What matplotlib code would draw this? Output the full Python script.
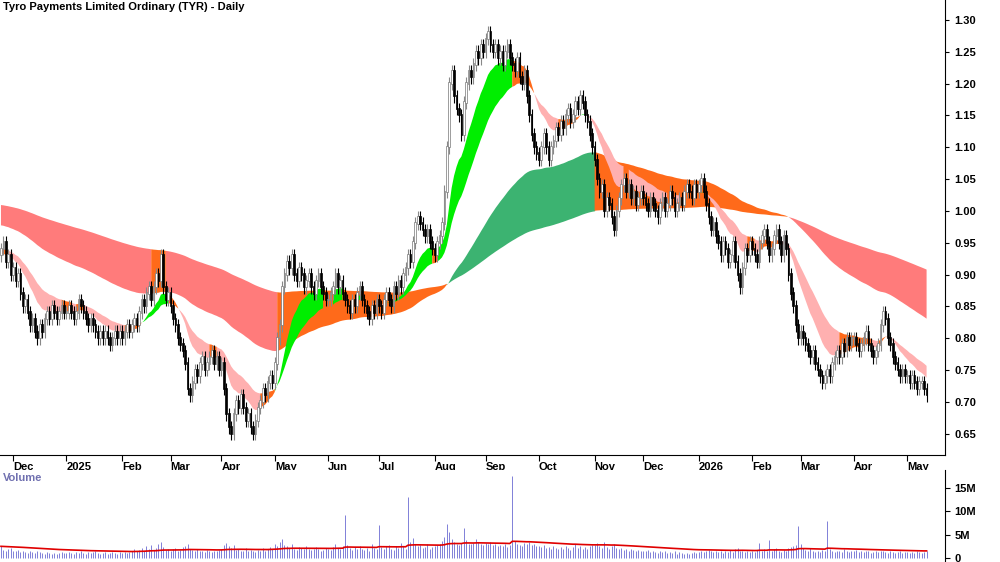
import numpy as np, pandas as pd, matplotlib
matplotlib.use("Agg")
import matplotlib.pyplot as plt
plt.rcParams['font.family'] = ['Liberation Sans', 'DejaVu Sans']

warmup = [1.04,1.03,1.05,1.04,1.02,1.03,1.01,1.02,1.03,1.01,0.99,0.98,1.00,0.99,0.97,0.98,1.00,0.99,0.98,0.97,
          0.99,0.98,0.96,0.97,0.98,0.97,0.96,0.98,0.97,0.95,0.96,0.97,0.96,0.95,0.97,0.96,0.94,0.95,0.96,0.95,
          0.94,0.96,0.95,0.93,0.94,0.95,0.94,0.93,0.95,0.94,0.92,0.93,0.94,0.92,0.91,0.92,0.93,0.91,0.92,0.93]
closes_by_month = [
 [0.94,0.95,0.92,0.93,0.90],
 [0.91,0.89,0.90,0.87,0.85,0.86,0.84,0.82,0.83,0.81,0.80,0.82,0.81,0.83,0.84,0.83,0.85,0.84,0.83,0.84,0.85,0.84],
 [0.84,0.85,0.84,0.83,0.84,0.86,0.85,0.84,0.83,0.82,0.83,0.82,0.81,0.80,0.81,0.80,0.81,0.80,0.79,0.80,0.81,0.80,0.81],
 [0.80,0.81,0.82,0.81,0.82,0.83,0.82,0.84,0.86,0.85,0.87,0.88,0.86,0.88,0.90,0.89,0.93,0.88,0.86,0.87],
 [0.85,0.83,0.82,0.80,0.79,0.78,0.76,0.72,0.71,0.73,0.75,0.74,0.76,0.77,0.75,0.76,0.77,0.78,0.76,0.77,0.75],
 [0.76,0.72,0.68,0.66,0.65,0.68,0.70,0.69,0.71,0.69,0.67,0.68,0.66,0.65,0.67,0.69,0.70,0.72,0.71,0.73,0.74,0.73],
 [0.76,0.80,0.82,0.88,0.90,0.92,0.91,0.93,0.90,0.89,0.91,0.90,0.88,0.89,0.90,0.88,0.87,0.89,0.90,0.88,0.87,0.86],
 [0.86,0.87,0.88,0.90,0.88,0.89,0.87,0.86,0.85,0.84,0.86,0.85,0.87,0.88,0.86,0.85,0.84,0.83,0.85,0.84,0.86],
 [0.85,0.84,0.86,0.87,0.86,0.85,0.88,0.87,0.89,0.88,0.90,0.91,0.93,0.92,0.95,0.98,0.99,0.98,0.97,0.96,0.97,0.95,0.94],
 [0.93,0.95,0.96,0.98,1.03,1.10,1.20,1.22,1.18,1.16,1.15,1.12,1.17,1.20,1.22,1.21,1.23,1.25,1.24,1.26,1.25],
 [1.27,1.28,1.26,1.25,1.26,1.24,1.25,1.23,1.25,1.26,1.24,1.23,1.22,1.24,1.21,1.20,1.22,1.18,1.15,1.12,1.10,1.09],
 [1.08,1.10,1.12,1.10,1.08,1.10,1.11,1.13,1.12,1.14,1.13,1.15,1.16,1.14,1.15,1.17,1.16,1.18,1.17,1.15,1.14,1.12,1.10],
 [1.08,1.05,1.03,1.04,1.00,1.02,1.01,0.99,0.97,1.00,1.02,1.04,1.05,1.03,1.04,1.02,1.03,1.01,1.02,1.03],
 [1.02,1.01,1.00,1.02,1.01,1.00,0.99,1.01,1.02,1.00,1.01,1.03,1.02,1.00,1.01,1.02,1.01,1.03,1.04,1.03,1.02,1.04,1.03],
 [1.04,1.05,1.03,1.01,0.99,0.97,0.98,0.96,0.95,0.93,0.95,0.94,0.92,0.93,0.95,0.92,0.90,0.88,0.91,0.94,0.93,0.95],
 [0.94,0.93,0.92,0.95,0.96,0.97,0.95,0.93,0.94,0.96,0.97,0.95,0.93,0.96,0.94,0.90,0.87,0.85,0.82,0.80],
 [0.81,0.80,0.79,0.78,0.77,0.78,0.76,0.75,0.74,0.73,0.74,0.75,0.74,0.76,0.77,0.78,0.77,0.79,0.78,0.80,0.79,0.80],
 [0.80,0.79,0.78,0.79,0.80,0.81,0.79,0.78,0.77,0.78,0.79,0.82,0.84,0.83,0.80,0.79,0.77,0.76,0.75,0.74,0.75,0.74],
 [0.74,0.73,0.74,0.73,0.72,0.73,0.73,0.72,0.71]]
volume_by_month = [
 [2.5,1.8,1.5,1.9,2.2],
 [1.6,1.4,1.8,1.2,1.5,1.3,1.1,1.6,1.2,1.0,1.4,1.3,1.1,0.9,1.2,1.0,0.8,1.1,0.9,1.0,1.2,1.1],
 [1.0,1.3,1.1,0.9,1.2,1.0,1.4,1.1,0.9,1.3,1.0,1.2,1.5,1.1,0.9,1.0,1.2,0.8,1.1,1.3,1.0,0.9,1.2],
 [1.1,1.3,1.0,1.2,1.5,2.0,1.4,1.8,2.2,1.6,2.5,1.9,2.8,1.7,2.2,3.0,3.5,2.4,1.8,2.0],
 [1.6,1.9,2.1,1.5,1.8,2.3,2.6,3.1,2.0,1.7,1.5,1.9,1.4,1.6,1.3,1.8,1.5,1.2,1.6,1.4,1.7],
 [1.9,2.8,3.2,2.5,2.1,2.7,1.8,2.0,1.6,1.5,2.2,1.4,1.8,1.6,1.3,1.7,1.5,2.1,1.6,1.9,2.4,2.0],
 [3.1,2.6,3.4,4.0,2.8,2.5,2.2,2.9,2.0,1.8,2.3,2.1,1.9,2.6,2.0,1.7,1.9,2.4,2.0,1.6,1.8,2.2],
 [2.0,1.8,2.4,3.0,2.2,1.9,2.5,9.2,2.8,2.1,1.7,2.3,1.9,2.6,2.0,1.8,2.2,1.6,2.9,2.1,1.9],
 [7.0,2.3,1.9,2.5,2.8,2.0,1.8,2.6,2.2,3.2,2.5,2.0,13.0,3.5,4.2,3.0,2.6,2.8,2.2,2.4,3.1,2.0,2.3],
 [2.5,2.8,3.0,3.6,4.5,7.2,5.5,4.0,3.4,3.0,2.8,3.2,6.5,3.8,3.0,2.9,3.3,4.1,3.5,3.0,2.8],
 [3.2,2.9,3.5,2.7,3.0,2.6,2.8,2.5,3.1,2.4,2.7,17.5,3.6,3.0,2.8,2.6,3.3,2.9,3.5,2.7,3.0,2.5],
 [2.6,2.3,2.8,2.1,2.4,2.0,2.5,2.2,1.9,2.3,2.0,2.6,2.2,1.8,2.4,2.9,2.1,2.6,2.0,2.3,1.9,2.5,2.7],
 [2.8,3.2,2.5,2.2,3.5,2.4,2.0,2.6,3.0,2.2,1.9,2.1,1.8,2.0,1.6,1.9,1.7,1.5,1.8,1.6],
 [1.5,1.4,1.7,1.2,1.5,1.3,1.1,1.4,1.2,1.6,1.0,1.3,1.1,1.4,0.9,1.2,1.0,0.8,1.1,0.9,1.0,1.2,1.1],
 [1.3,1.6,1.2,1.5,1.8,1.4,1.2,1.6,1.3,1.5,1.1,1.4,1.2,1.7,1.3,1.9,2.2,1.6,1.4,1.2,1.5,1.3],
 [1.4,1.2,1.8,3.2,1.6,2.0,1.5,3.8,1.4,1.9,2.1,1.6,1.3,1.8,1.5,2.2,2.4,2.6,2.8,6.8],
 [3.0,2.2,1.8,1.5,2.1,1.4,1.3,1.6,1.2,1.8,1.4,8.0,2.0,1.5,1.3,1.6,1.4,1.2,2.0,1.5,1.3,1.6],
 [1.4,1.7,1.3,1.5,1.2,1.6,1.4,1.1,1.3,1.5,1.2,1.4,1.6,1.3,1.1,1.4,1.2,1.0,1.3,1.5,1.1,1.2],
 [1.3,1.1,1.2,1.0,1.4,1.2,1.1,1.3,1.6]]
month_labels = ['Dec','2025','Feb','Mar','Apr','May','Jun','Jul','Aug','Sep','Oct','Nov','Dec',
                '2026','Feb','Mar','Apr','May']

closes = np.array([c for m in closes_by_month for c in m])
vols = np.array([v for m in volume_by_month for v in m])
n = len(closes)
allc = pd.Series(list(warmup) + list(closes))
def ema(s, span): return s.ewm(span=span, adjust=False).mean().values[len(warmup):]
sf, ss = ema(allc, 14), ema(allc, 28)
lf, ls = ema(allc, 90), ema(allc, 240)
opens = np.array(list(allc.values[len(warmup)-1:-1]))
highs = np.maximum(opens, closes) + 0.01
lows = np.minimum(opens, closes) - 0.01
x = np.arange(n)
mstarts = list(np.cumsum([len(m) for m in closes_by_month])[:-1])

fig = plt.figure(figsize=(10, 5.62), dpi=100)
ax = fig.add_axes([0, 0.19, 0.945, 0.81])
av = fig.add_axes([0, 0.0, 0.945, 0.164])

def ribbon(a, b, up, dn, mid):
    rising = (a - np.r_[a[:3], a[:-3]]) > 0
    rising[:3] = rising[3]
    state = np.where((a > b) & rising, 0, np.where((a < b) & ~rising, 1, 2))
    for k, col in enumerate([up, dn, mid]):
        m = state == k
        m2 = m | np.r_[m[1:], False]
        ax.fill_between(x, a, b, where=m2, color=col, lw=0, zorder=1)

ribbon(lf, ls, '#3cb371', '#ff7b7b', '#ff6a1a')
ribbon(sf, ss, '#00ee00', '#ffb0b0', '#ff6a1a')

up = closes >= opens
ax.vlines(x, lows, highs, color=np.where(up, '#888888', '#000000'), lw=0.8, zorder=2)
ax.bar(x, np.abs(closes - opens) + 0.002, bottom=np.minimum(opens, closes), width=0.7,
       color=np.where(up, 'white', 'black'), edgecolor=np.where(up, '#777777', 'black'), lw=0.5, zorder=3)

ax.set_xlim(-0.4, 389.6)
ax.set_ylim(0.616, 1.3314)
ax.yaxis.tick_right()
yt = np.arange(0.65, 1.31, 0.05)
ax.set_yticks(yt)
ax.set_yticklabels([f'{v:.2f}' for v in yt], fontsize=8, fontweight='bold')
ax.set_xticks(mstarts)
ax.set_xticklabels(month_labels, fontsize=8, fontweight='bold', ha='left')
ax.tick_params(axis='x', length=4, pad=1)
ax.tick_params(axis='y', length=3)
for s in ['top', 'left']:
    ax.spines[s].set_visible(False)
ax.text(0.003, 0.995, 'Tyro Payments Limited Ordinary (TYR) - Daily', transform=ax.transAxes,
        fontsize=8, fontweight='bold', va='top')

av.vlines(x, 0, vols, color='#8080d8', lw=0.7)
av.plot(x, pd.Series(vols).ewm(span=60, adjust=False).mean(), color='#e00000', lw=1.2)
av.set_xlim(-0.4, 389.6)
av.set_ylim(-0.86, 18.9)
av.yaxis.tick_right()
av.set_yticks([0, 5, 10, 15])
av.set_yticklabels(['0', '5M', '10M', '15M'], fontsize=8, fontweight='bold')
av.set_xticks([])
for s in ['top', 'left', 'bottom']:
    av.spines[s].set_visible(False)
av.text(0.003, 0.97, 'Volume', transform=av.transAxes, fontsize=8, fontweight='bold',
        color='#7070b0', va='top')
fig.savefig('out.png')
